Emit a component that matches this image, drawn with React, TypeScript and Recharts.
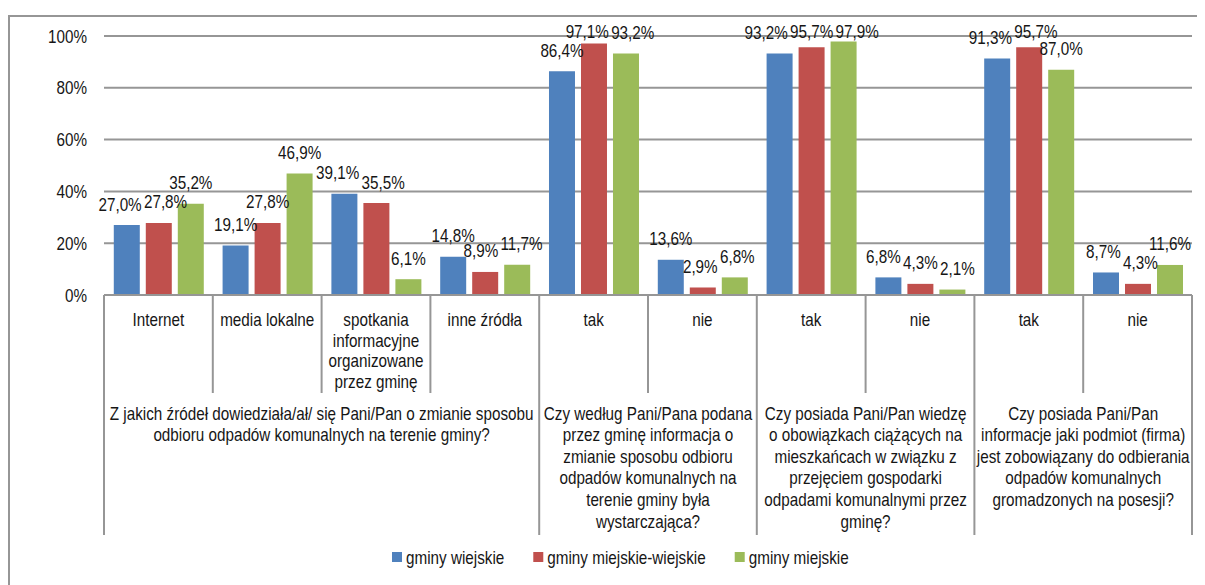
import React from 'react';
import { BarChart, Bar, XAxis, YAxis, CartesianGrid, LabelList, Legend } from 'recharts';

const categories = ['Internet', 'media lokalne', 'spotkania|informacyjne|organizowane|przez gminę', 'inne źródła', 'tak', 'nie', 'tak', 'nie', 'tak', 'nie'];
const groupOf = [0, 0, 0, 0, 1, 1, 2, 2, 3, 3];
const groupLabels = [
  ['Z jakich źródeł dowiedziała/ał/ się Pani/Pan o zmianie sposobu', 'odbioru odpadów komunalnych na terenie gminy?'],
  ['Czy według Pani/Pana podana', 'przez gminę informacja o', 'zmianie sposobu odbioru', 'odpadów komunalnych na', 'terenie gminy była', 'wystarczająca?'],
  ['Czy posiada Pani/Pan wiedzę', 'o obowiązkach ciążących na', 'mieszkańcach w związku z', 'przejęciem gospodarki', 'odpadami komunalnymi przez', 'gminę?'],
  ['Czy posiada Pani/Pan', 'informacje jaki podmiot (firma)', 'jest zobowiązany do odbierania', 'odpadów komunalnych', 'gromadzonych na posesji?'],
];
const wiejskie = [27.0, 19.1, 39.1, 14.8, 86.4, 13.6, 93.2, 6.8, 91.3, 8.7];
const miejskoWiejskie = [27.8, 27.8, 35.5, 8.9, 97.1, 2.9, 95.7, 4.3, 95.7, 4.3];
const miejskie = [35.2, 46.9, 6.1, 11.7, 93.2, 6.8, 97.9, 2.1, 87.0, 11.6];
const yTicks = [0, 20, 40, 60, 80, 100];
const seriesNames = ['gminy wiejskie', 'gminy miejskie-wiejskie', 'gminy miejskie'];
const colors = ['#4F81BD', '#C0504D', '#9BBB59'];
const seriesValues = [wiejskie, miejskoWiejskie, miejskie];

const data = categories.map((c, i) => ({
  key: 'c' + i,
  label: c,
  w: wiejskie[i],
  mw: miejskoWiejskie[i],
  m: miejskie[i],
}));

const W = 1197;
const H = 577;
const M = { top: 28, right: 13, left: 0, bottom: 0 };
const Y_W = 96;
const X_H = 290;
const PLOT_W = W - M.left - M.right - Y_W;
const PLOT_H = H - M.top - M.bottom - X_H;
const BAND = PLOT_W / categories.length;
const CAT_GAP = 0.09;
const BAR_GAP = 6;
const BAR_W = (BAND * (1 - 2 * CAT_GAP) - 2 * BAR_GAP) / 3;
const FONT = "'Liberation Sans', Arial, sans-serif";
const SX = 0.82;
const FS = 18.6;
const LINE = '#969696';
const TXT = '#161616';

const fmt = (v: number) => v.toFixed(1).replace('.', ',') + '%';

let ctx: CanvasRenderingContext2D | null = null;
const measure = (t: string) => {
  if (!ctx && typeof document !== 'undefined') {
    ctx = document.createElement('canvas').getContext('2d');
  }
  if (!ctx) return t.length * FS * 0.45;
  ctx.font = `${FS}px 'Liberation Sans', Arial, sans-serif`;
  return ctx.measureText(t).width * SX;
};

const NText = ({ x, y, anchor = 'middle', children }: any) => (
  <text transform={`translate(${x},${y}) scale(${SX},1)`} x={0} y={0} textAnchor={anchor} fontSize={FS} fontFamily={FONT} fill={TXT}>
    {children}
  </text>
);

// label layout: offsets relative to each bar's top-centre, resolved so labels do not collide
const LABEL_RAISE = 14.5;
const LABEL_H = 15;
const MIN_BASE = 2; // from plot top
const labelLayout: { dx: number; dy: number }[][] = categories.map((_, i) => {
  const items = [0, 1, 2].map((s) => {
    const v = seriesValues[s][i];
    const top = (1 - v / 100) * PLOT_H;
    const base = Math.max(top - LABEL_RAISE, MIN_BASE);
    return { cx0: s * (BAR_W + BAR_GAP), cx: s * (BAR_W + BAR_GAP), base, top, w: measure(fmt(v)) };
  });
  for (let it = 0; it < 30; it++) {
    for (let s = 0; s < 2; s++) {
      const a = items[s];
      const b = items[s + 1];
      if (Math.abs(a.base - b.base) < LABEL_H) {
        const need = (a.w + b.w) / 2 + 2;
        const dist = b.cx - a.cx;
        if (dist < need) {
          const d = need - dist;
          a.cx -= d / 2;
          b.cx += d / 2;
        }
      }
    }
  }
  return items.map((o) => ({ dx: o.cx - o.cx0, dy: o.base - o.top }));
});

const XTick = (props: any) => {
  const { x, y, index } = props;
  const i = index as number;
  const lines = categories[i].split('|');
  const left = x - BAND / 2;
  const g = groupOf[i];
  const isGroupStart = i === 0 || groupOf[i - 1] !== g;
  const isLast = i === categories.length - 1;
  const els: React.ReactNode[] = [];
  els.push(<line key="l" x1={left} x2={left} y1={y} y2={y + (isGroupStart ? 240 : 98)} stroke={LINE} strokeWidth={2} />);
  if (isLast) {
    els.push(<line key="r" x1={left + BAND} x2={left + BAND} y1={y} y2={y + 240} stroke={LINE} strokeWidth={2} />);
  }
  lines.forEach((ln, k) => {
    els.push(
      <NText key={'t' + k} x={x} y={y + 31 + k * 20.7}>
        {ln}
      </NText>
    );
  });
  if (isGroupStart) {
    const n = groupOf.filter((q) => q === g).length;
    const cx = left + (n * BAND) / 2;
    groupLabels[g].forEach((ln, k) => {
      els.push(
        <NText key={'g' + k} x={cx} y={y + 124.5 + k * 21.6}>
          {ln}
        </NText>
      );
    });
  }
  return <g>{els}</g>;
};

const YTick = (props: any) => {
  const { x, y, payload } = props;
  return (
    <NText x={x} y={y + 6.5} anchor="end">
      {payload.value + '%'}
    </NText>
  );
};

const makeLabel = (s: number) => (props: any) => {
  const { x, y, width, value, index } = props;
  const lay = labelLayout[index][s];
  return (
    <NText x={x + width / 2 + lay.dx} y={y + lay.dy}>
      {fmt(value)}
    </NText>
  );
};

const LegendContent = () => {
  let cx = 0;
  const items = seriesNames.map((n, i) => {
    const x0 = cx;
    cx += 14 + measure(n) + 29;
    return (
      <g key={n}>
        <rect x={x0} y={6} width={10} height={10} fill={colors[i]} />
        <NText x={x0 + 14} y={17.5} anchor="start">
          {n}
        </NText>
      </g>
    );
  });
  return (
    <svg width={cx} height={22} style={{ display: 'block', overflow: 'visible' }}>
      {items}
    </svg>
  );
};

export default function App() {
  return (
    <div style={{ position: 'relative', width: W, height: H }}>
      <style>{'html,body{overflow:hidden}'}</style>
      <div style={{ position: 'absolute', left: 0, top: 7, width: W + 20, height: H + 20, borderTop: `2px solid ${LINE}`, borderLeft: `2px solid ${LINE}`, boxSizing: 'border-box' }} />
      <div style={{ position: 'absolute', left: 0, top: 0 }}>
        <BarChart width={W} height={H} data={data} margin={M} barCategoryGap={`${CAT_GAP * 100}%`} barGap={BAR_GAP}>
          <CartesianGrid vertical={false} stroke={LINE} strokeWidth={2} />
          <XAxis dataKey="key" height={X_H} interval={0} tickLine={false} tickSize={0} tickMargin={0} axisLine={{ stroke: LINE, strokeWidth: 2 }} tick={<XTick />} />
          <YAxis width={Y_W} domain={[0, 100]} ticks={yTicks} axisLine={false} tickLine={false} tickSize={0} tickMargin={17} tick={<YTick />} />
          <Legend layout="horizontal" verticalAlign="middle" align="center" wrapperStyle={{ top: 538, left: 384, width: 'auto' }} content={<LegendContent />} />
          <Bar dataKey="w" name={seriesNames[0]} fill={colors[0]} isAnimationActive={false}>
            <LabelList dataKey="w" content={makeLabel(0)} />
          </Bar>
          <Bar dataKey="mw" name={seriesNames[1]} fill={colors[1]} isAnimationActive={false}>
            <LabelList dataKey="mw" content={makeLabel(1)} />
          </Bar>
          <Bar dataKey="m" name={seriesNames[2]} fill={colors[2]} isAnimationActive={false}>
            <LabelList dataKey="m" content={makeLabel(2)} />
          </Bar>
        </BarChart>
      </div>
    </div>
  );
}
